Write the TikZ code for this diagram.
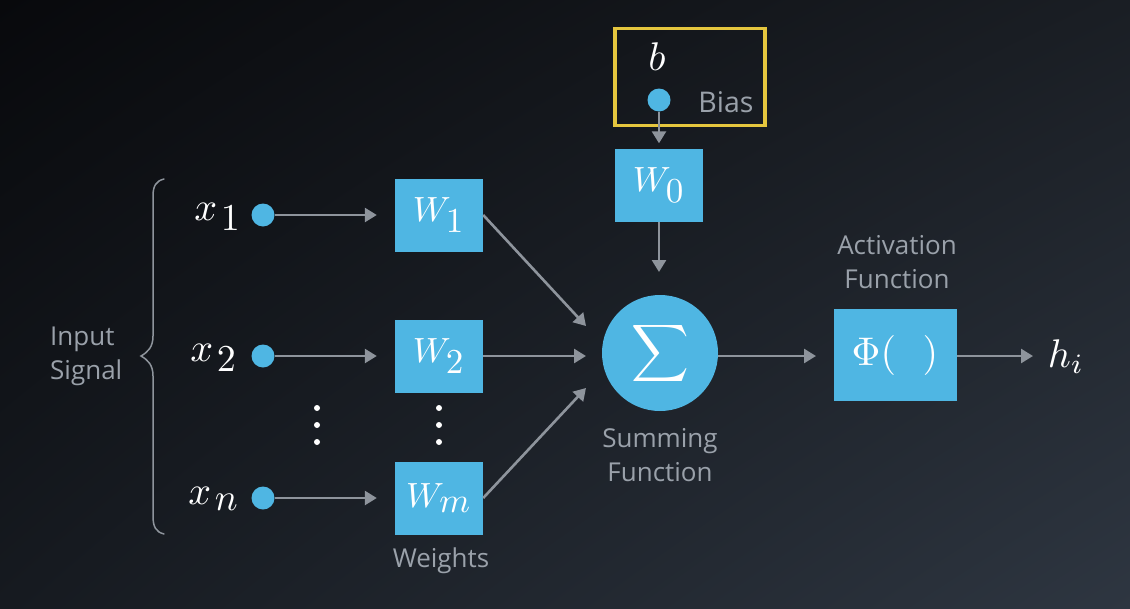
\documentclass[tikz,border=0pt]{standalone}
\usepackage{fontspec}
\newfontfamily\osans{Open Sans}
\usetikzlibrary{arrows.meta,calc,shadings}
\definecolor{nblue}{HTML}{4FB6E3}
\definecolor{ngray}{HTML}{8E949C}
\definecolor{tgray}{HTML}{9AA1AA}
\definecolor{nyellow}{HTML}{E5C63E}
\definecolor{bgA}{HTML}{08090C}
\definecolor{bgB}{HTML}{1A1E24}
\definecolor{bgC}{HTML}{161A20}
\definecolor{bgD}{HTML}{2E3641}
\newcommand\xs[1]{_{\mkern2mu\scalebox{0.95}{$#1$}}}
\newcommand\bigmath[2]{\scalebox{#1}{$#2$}}
\begin{document}
\begin{tikzpicture}[x=1pt,y=-1pt,
  wbox/.style={fill=nblue, minimum width=88pt, minimum height=73pt, inner sep=0pt,
    text=white},
  indot/.style={circle, fill=nblue, minimum size=23pt, inner sep=0pt},
  arr/.style={draw=ngray, line width=2.6pt, -{Triangle[length=12pt,width=14pt]}},
  lbl/.style={text=tgray, font=\osans\fontsize{26}{34}\selectfont, align=center, inner sep=0pt},
  mlbl/.style={text=white, inner sep=0pt},
  ell/.style={circle, fill=white, minimum size=6pt, inner sep=0pt}
]
\shade[upper left=bgA, upper right=bgB, lower left=bgC, lower right=bgD] (0,0) rectangle (1130,608);
\useasboundingbox (0,0) rectangle (1130,608);

% inputs
\node[mlbl] (x1) at (218,217) {\bigmath{4}{x\xs{1}}};
\node[mlbl] (x2) at (214,358) {\bigmath{4}{x\xs{2}}};
\node[mlbl] (xn) at (214,499) {\bigmath{4}{x\xs{n}}};
\node[indot] (d1) at (263,215) {};
\node[indot] (d2) at (263,356) {};
\node[indot] (dn) at (263,498) {};

% weights
\node[wbox] (w1) at (439,215) {\bigmath{3.5}{W_{\textstyle 1}}};
\node[wbox] (w2) at (439,356) {\bigmath{3.5}{W_{\textstyle 2}}};
\node[wbox] (wm) at (439,498) {\bigmath{3.5}{W_{\textstyle m}}};
\node[lbl] (wlab) at (441,561) {Weights};

% ellipses
\foreach \yy [count=\i] in {408,425,442}{
  \node[ell] (ea\i) at (317,\yy) {};
  \node[ell] (eb\i) at (439,\yy) {};
}

% bias
\node[draw=nyellow, line width=3.5pt, minimum width=150pt, minimum height=97pt, inner sep=0pt] (bbox) at (690,77) {};
\node[mlbl] (b) at (657,57) {\bigmath{4}{b}};
\node[indot] (bd) at (659,100) {};
\node[lbl, font=\osans\fontsize{28.5}{34}\selectfont] (blab) at (726,102) {Bias};
\node[wbox] (w0) at (659,185) {\bigmath{3.5}{W_{\textstyle 0}}};

% sum
\node[circle, fill=nblue, text=white, minimum size=116pt, inner sep=0pt] (sig) at (660,353) {\bigmath{4}{\displaystyle\sum}};
\node[lbl] (slab) at (660,455) {Summing\\Function};

% activation
\node[wbox, minimum width=123pt, minimum height=92pt] (phi) at (895,355) {\bigmath{4}{\Phi(\mkern12mu)}};
\node[lbl] (alab) at (897,262) {Activation\\Function};
\node[mlbl] (h) at (1066,357) {\bigmath{4}{h_i}};

% input signal
\node[lbl, align=left, anchor=west] (ilab) at (50,356) {Input\\Signal};
\draw[ngray, line width=1.5pt, line cap=round]
  (164,179) .. controls (156,181) and (153,186) .. (153,196)
  -- (153,336) .. controls (153,347) and (148,352) .. (141,356)
  .. controls (148,360) and (153,365) .. (153,376)
  -- (153,516) .. controls (153,527) and (156,532) .. (164,534);

% coordinates
\coordinate (in1) at (586,326);
\coordinate (in2) at (586,356);
\coordinate (inm) at (586,388);
\coordinate (intop) at (659,272);
\coordinate (sout) at (718,356);
\coordinate (pin) at (816,356);
\coordinate (hin) at (1033,356);

% connectors
\draw[arr] (d1) -- ($(w1.west)+(-18,0)$);
\draw[arr] (d2) -- ($(w2.west)+(-18,0)$);
\draw[arr] (dn) -- ($(wm.west)+(-18,0)$);
\draw[arr] (bd) -- ($(w0.north)+(0,-5)$);
\draw[arr] (w0) -- (intop);
\draw[arr] (w1.east) -- (in1);
\draw[arr] (w2.east) -- (in2);
\draw[arr] (wm.east) -- (inm);
\draw[arr] (sout) -- (pin);
\draw[arr] (phi.east |- hin) -- (hin);
\end{tikzpicture}
\end{document}
